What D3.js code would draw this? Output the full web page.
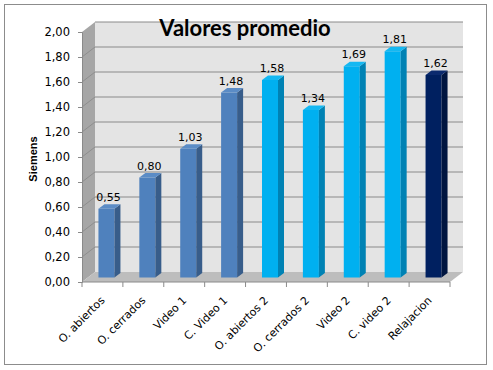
<!DOCTYPE html>
<html>
<head>
<meta charset="utf-8">
<script src="https://cdn.jsdelivr.net/npm/d3@7"></script>
<style>
  body { margin: 0; background: #fff; }
  svg text { font-family: "DejaVu Sans", sans-serif; }
</style>
</head>
<body>
<div id="chart"></div>
<script>
var width = 493, height = 370;

// data
var categories = ["O. abiertos", "O. cerrados", "Video 1", "C. Video 1", "O. abiertos 2",
                  "O. cerrados 2", "Video 2", "C. video 2", "Relajacion"];
var values = [0.55, 0.80, 1.03, 1.48, 1.58, 1.34, 1.69, 1.81, 1.62];
var groups = [0, 0, 0, 0, 1, 1, 1, 1, 2];
var yTicks = [0, 0.2, 0.4, 0.6, 0.8, 1.0, 1.2, 1.4, 1.6, 1.8, 2.0];

var front = ["#4f81bd", "#00b0f0", "#002060"];
var side = ["#385d8a", "#0082b4", "#001540"];
var top_ = ["#5b8cc6", "#14b8f2", "#0b2a6e"];

// depth offset of the plot box, and of the bars inside it
var dx = 13, dy = -10;
var bdx = 6, bdy = -4.5;
var barW = 16;

var svg = d3.select("#chart")
            .append("svg")
            .attr("width", width)
            .attr("height", height);

// outer frame
svg.append("rect")
   .attr("x", 4.5).attr("y", 4.5)
   .attr("width", 482).attr("height", 360)
   .attr("fill", "#fff")
   .attr("stroke", "#8c8c8c");

var x = d3.scaleBand()
          .domain(categories)
          .range([82, 450]);

var y = d3.scaleLinear()
          .domain([0, 2])
          .range([282, 32]);

var x0 = x.range()[0], x1 = x.range()[1];
var yb = y(0), yt = y(2);

// back wall
svg.append("rect")
   .attr("x", x0 + dx).attr("y", yt + dy)
   .attr("width", x1 - x0).attr("height", yb - yt)
   .attr("fill", "#e4e4e4");

// left wall
svg.append("polygon")
   .attr("points", [[x0, yb], [x0, yt], [x0 + dx, yt + dy], [x0 + dx, yb + dy]].join(" "))
   .attr("fill", "#a6a6a6");

// floor
svg.append("polygon")
   .attr("points", [[x0, yb], [x1, yb], [x1 + dx, yb + dy], [x0 + dx, yb + dy]].join(" "))
   .attr("fill", "#bdbdbd");

// gridlines
var grid = svg.append("g");
grid.selectAll(".gb")
    .data(yTicks.slice(1))
    .enter().append("line")
    .attr("x1", x0 + dx).attr("x2", x1 + dx)
    .attr("y1", function(d) { return y(d) + dy; })
    .attr("y2", function(d) { return y(d) + dy; })
    .attr("stroke", "#8a8a8a");
grid.selectAll(".gl")
    .data(yTicks.slice(1, -1))
    .enter().append("line")
    .attr("x1", x0).attr("x2", x0 + dx)
    .attr("y1", function(d) { return y(d); })
    .attr("y2", function(d) { return y(d) + dy; })
    .attr("stroke", "#8e8e8e");

// bars
var bars = svg.selectAll(".bar")
              .data(values)
              .enter().append("g");

function bx(i) { return x(categories[i]) + x.bandwidth() / 2 - 4; }

bars.append("rect")
    .attr("x", function(d, i) { return bx(i); })
    .attr("y", function(d) { return y(d) + bdy; })
    .attr("width", barW)
    .attr("height", function(d) { return yb - y(d); })
    .attr("fill", function(d, i) { return front[groups[i]]; });

bars.append("polygon")
    .attr("points", function(d, i) {
      var l = bx(i) + barW, t = y(d) + bdy, b = yb + bdy;
      return [[l, t], [l + bdx, t + bdy], [l + bdx, b + bdy], [l, b]].join(" ");
    })
    .attr("fill", function(d, i) { return side[groups[i]]; });

bars.append("polygon")
    .attr("points", function(d, i) {
      var l = bx(i), t = y(d) + bdy;
      return [[l, t], [l + barW, t], [l + barW + bdx, t + bdy], [l + bdx, t + bdy]].join(" ");
    })
    .attr("fill", function(d, i) { return top_[groups[i]]; });

// value labels
bars.append("text")
    .attr("x", function(d, i) { return bx(i) + barW / 2 + 2; })
    .attr("y", function(d) { return y(d) + bdy - 8; })
    .attr("text-anchor", "middle")
    .attr("font-size", "11px")
    .attr("fill", "#000")
    .text(function(d) { return d.toFixed(2).replace(".", ","); });

// y axis
var yAxis = d3.axisLeft(y)
              .tickValues(yTicks)
              .tickSize(4)
              .tickPadding(8)
              .tickFormat(function(d) { return d.toFixed(2).replace(".", ","); });

var ya = svg.append("g")
   .attr("transform", "translate(" + x0 + ",0)")
   .call(yAxis);
ya.select(".domain").attr("stroke", "#8a8a8a");
ya.selectAll(".tick line").attr("stroke", "#8a8a8a");
ya.selectAll("text").attr("font-size", "11.5px").attr("fill", "#000")
  .style("font-family", "DejaVu Sans");

// x axis ticks at the category borders
var xt = categories.map(function(c) { return x(c); }).concat([x1]);
svg.selectAll(".xt")
   .data(xt)
   .enter().append("line")
   .attr("x1", function(d) { return d; }).attr("x2", function(d) { return d; })
   .attr("y1", yb).attr("y2", yb + 5)
   .attr("stroke", "#8a8a8a");
svg.append("line")
   .attr("x1", x0).attr("x2", x1)
   .attr("y1", yb).attr("y2", yb)
   .attr("stroke", "#8a8a8a");

// x labels
svg.selectAll(".xl")
   .data(categories)
   .enter().append("text")
   .attr("transform", function(d) {
     return "translate(" + (x(d) + x.bandwidth() / 2 + 3) + "," + 301 + ") rotate(-45)";
   })
   .attr("text-anchor", "end")
   .attr("font-size", "11px")
   .attr("fill", "#000")
   .text(function(d) { return d; });

// axis title
svg.append("text")
   .attr("transform", "translate(37,159) rotate(-90)")
   .attr("text-anchor", "middle")
   .style("font-family", "Liberation Sans")
   .attr("font-weight", "bold")
   .attr("font-size", "11px")
   .text("Siemens");

// title
svg.append("text")
   .attr("x", 245)
   .attr("y", 36)
   .attr("text-anchor", "middle")
   .style("font-family", "Lato")
   .attr("font-weight", "bold")
   .attr("font-size", "22px")
   .text("Valores promedio");
</script>
</body>
</html>
